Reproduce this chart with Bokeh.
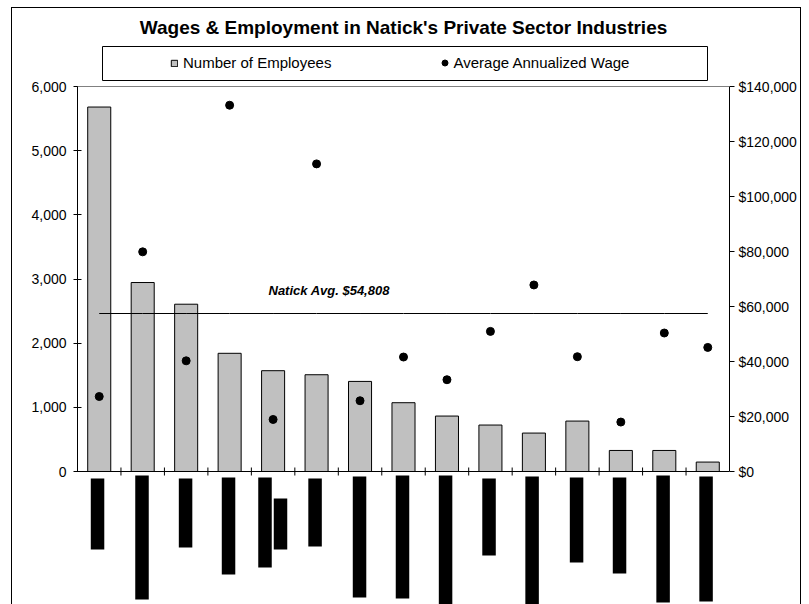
from bokeh.plotting import figure
from bokeh.models import (Range1d, LinearAxis, FixedTicker, NumeralTickFormatter, Span,
                          Legend, LegendItem)
from bokeh.core.properties import value
from bokeh.embed import file_html
from bokeh.resources import INLINE

# ---------------- data ----------------
# category labels are blacked out in the source picture
employees = [5680, 2945, 2607, 1842, 1571, 1508, 1404, 1072, 864, 724, 599, 786, 328, 328, 147]
avg_wage = [27270, 79880, 40250, 133190, 18920, 111860, 25730, 41630, 33370, 50950,
            67830, 41740, 17980, 50360, 45120]
natick_avg_level = 57450
natick_avg_label = "Natick Avg. $54,808"
emp_ticks = [0, 1000, 2000, 3000, 4000, 5000, 6000]
wage_ticks = [0, 20000, 40000, 60000, 80000, 100000, 120000, 140000]
title_text = "Wages & Employment in Natick's Private Sector Industries"
series_names = ["Number of Employees", "Average Annualized Wage"]

# redacted (blacked-out) category label blocks: category, extent below axis (px)
label_block_cat = [0, 1, 2, 3, 4, 4, 5, 6, 7, 8, 9, 10, 11, 12, 13, 14]
label_block_top = [7, 4, 7, 6, 6, 27, 7, 5, 4, 4, 7, 5, 6, 6, 4, 5]
label_block_bottom = [78, 128, 76, 103, 96, 78, 75, 126, 127, 140, 84, 140, 91, 102, 131, 130]

# ---------------- layout constants ----------------
W, H = 809, 604
FL, FR, FT, FB = 77, 729, 40, 604      # frame (covers legend strip too)
TOP_PX = 86                              # y pixel of the 6,000 / $140,000 gridline
ZERO_PX = 471
n = len(employees)
xs = list(range(n))
px_per_cat = (FR - FL) / n
above_px = ZERO_PX - FT
below_px = FB - ZERO_PX
plot_px = ZERO_PX - TOP_PX
block_shift_px = [-1.7, -0.7, -0.6, -1.1, -8.1, 7.4, -1.5, -0.5, -1.0, -1.4, -1.4, -1.8, -0.8, -1.3, -1.2, -1.7]
LEG_TOP, LEG_BOT = 46, 80

FONT = "Liberation Sans"

def px_to_cat(px):
    return (px - FL) / px_per_cat - 0.5

border_css = {
    "background-color": "white",
    "background-image": "linear-gradient(#000,#000), linear-gradient(#000,#000), linear-gradient(#000,#000)",
    "background-size": "1px 640px, 1px 640px, 790px 1px",
    "background-position": "11px 7px, 800px 7px, 11px 7px",
    "background-repeat": "no-repeat",
}

p = figure(width=W, height=H,
           x_range=Range1d(-0.5, n - 0.5),
           y_range=Range1d(-emp_ticks[-1] * below_px / plot_px, emp_ticks[-1] * above_px / plot_px),
           x_axis_type=None, y_axis_type=None,
           output_backend="svg", toolbar_location=None,
           min_border_left=FL, min_border_right=W - FR, min_border_top=FT, min_border_bottom=0,
           outline_line_color=None, background_fill_color=None, border_fill_color=None,
           styles=border_css)
p.extra_y_ranges = {
    "wage": Range1d(-wage_ticks[-1] * below_px / plot_px, wage_ticks[-1] * above_px / plot_px),
    "px": Range1d(-below_px, above_px),
}

# title
p.title.text = title_text
p.title.align = "center"
p.title.text_font = FONT
p.title.text_font_size = "19px"
p.title.text_font_style = "bold"
p.title.text_color = "black"
p.title.standoff = 5

# axes
left = LinearAxis(ticker=FixedTicker(ticks=emp_ticks), formatter=NumeralTickFormatter(format="0,0"),
                  bounds=(emp_ticks[0], emp_ticks[-1]))
right = LinearAxis(y_range_name="wage", ticker=FixedTicker(ticks=wage_ticks),
                   formatter=NumeralTickFormatter(format="$0,0"),
                   bounds=(wage_ticks[0], wage_ticks[-1]))
for ax, tin, tout, so in ((left, 4, 4, 7), (right, 0, 5, 4)):
    ax.major_tick_in = tin
    ax.major_tick_out = tout
    ax.minor_tick_line_color = None
    ax.axis_line_color = "black"
    ax.major_tick_line_color = "black"
    ax.major_label_standoff = so
    ax.major_label_text_font = FONT
    ax.major_label_text_font_size = "14px"
    ax.major_label_text_color = "black"
p.add_layout(left, "left")
p.add_layout(right, "right")

# plot-area top edge and zero line
p.add_layout(Span(location=emp_ticks[-1], dimension="width", line_color="#808080", line_width=1))
p.add_layout(Span(location=0, dimension="width", line_color="black", line_width=1))

# category boundary ticks on the zero line
bx = [i + 0.5 for i in range(n - 1)]
p.segment(x0=bx, y0=[-4] * len(bx), x1=bx, y1=[4] * len(bx), y_range_name="px",
          line_color="black", line_width=1)

# bars
bars = p.vbar(x=xs, top=employees, width=0.53, fill_color="#C0C0C0", line_color="black", line_width=1)

# average line + label
p.line(xs, [natick_avg_level] * n, y_range_name="wage", line_color="black", line_width=1)
p.text(x=[px_to_cat(328.7)], y=[natick_avg_level], text=[natick_avg_label], y_range_name="wage",
       text_font=value(FONT), text_font_style="bold italic", text_font_size="13px",
       text_align="center", text_baseline="middle", y_offset=-23, text_color="black")

# wage dots
dots = p.scatter(xs, avg_wage, y_range_name="wage", marker="circle", size=8,
                 fill_color="black", line_color="black")

# blacked-out category labels
bxs = [c + s / px_per_cat for c, s in zip(label_block_cat, block_shift_px)]
p.vbar(x=bxs, width=13.5 / px_per_cat, top=[-t for t in label_block_top],
       bottom=[-b for b in label_block_bottom], y_range_name="px",
       fill_color="black", line_color=None)

# legend frame (drawn in the strip above the plot area)
p.quad(left=[px_to_cat(102)], right=[px_to_cat(707)], top=[ZERO_PX - LEG_TOP], bottom=[ZERO_PX - LEG_BOT],
       y_range_name="px", fill_color="white", line_color="black", line_width=1)

# legends (two, so each can have its own glyph size)
common = dict(orientation="horizontal", padding=7, margin=0,
              border_line_color=None, background_fill_alpha=0,
              label_text_font=FONT, label_text_font_size="15px", label_text_color="black")
leg_y = FB - LEG_BOT + 9
leg1 = Legend(items=[LegendItem(label=series_names[0], renderers=[bars])],
              glyph_width=8, glyph_height=8, label_standoff=5,
              location=(170 - FL, leg_y), **common)
leg2 = Legend(items=[LegendItem(label=series_names[1], renderers=[dots])],
              glyph_width=15, glyph_height=17, label_standoff=2,
              location=(436.5 - FL, leg_y), **common)
p.add_layout(leg1)
p.add_layout(leg2)

open("out.html", "w").write(file_html(p, INLINE))
